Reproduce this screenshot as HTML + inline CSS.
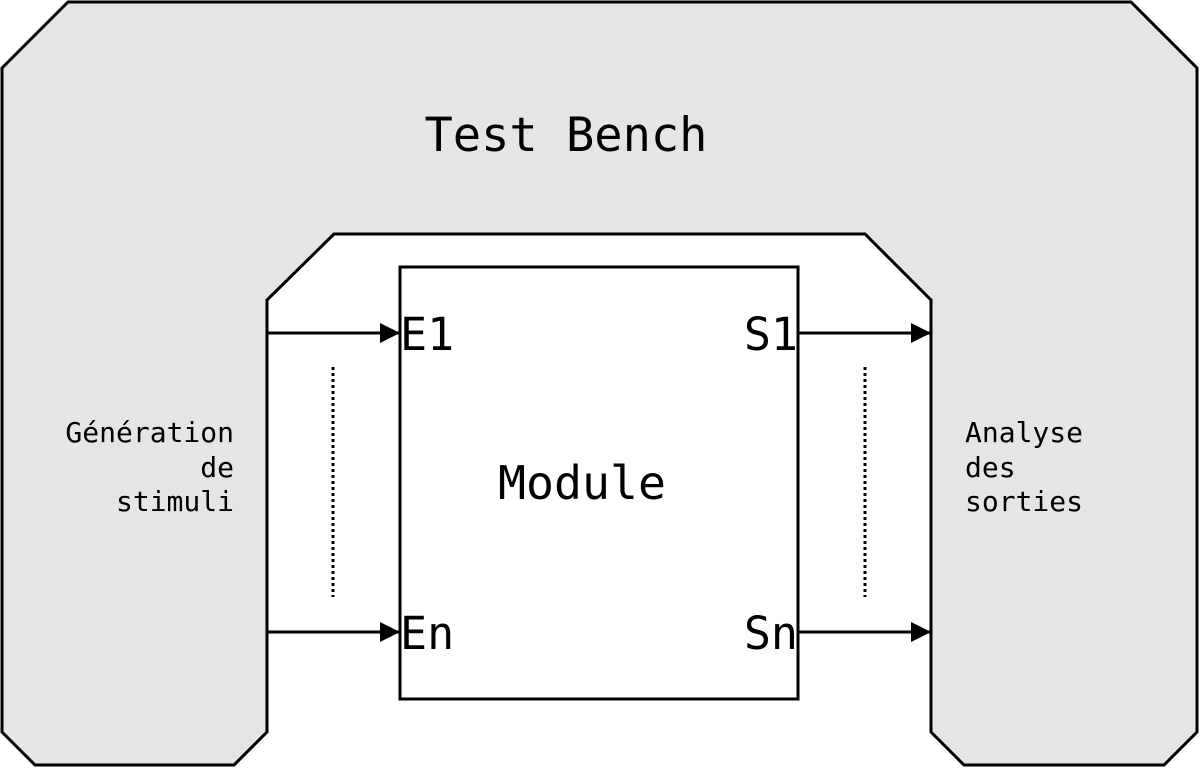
<!DOCTYPE html>
<html><head><meta charset="utf-8"><style>
html,body{margin:0;padding:0;background:#fff;}
svg{display:block;}
text{font-family:"DejaVu Sans Mono","Liberation Mono",monospace;fill:#000;}
</style></head><body>
<svg width="1200" height="768" viewBox="0 0 1200 768" xmlns="http://www.w3.org/2000/svg">
<defs>
<marker id="b" viewBox="0 0 20 20" refX="20" refY="10" markerWidth="20" markerHeight="20" orient="auto" markerUnits="userSpaceOnUse"><path d="M0,0 L20,10 L0,20 z" fill="#000"/></marker>
</defs>
<polygon points="2,68 68,2 1131,2 1197,68 1197,732 1164,765 964,765 931,732 931,300 865,234 334,234 267,300 267,732 234,765 35,765 2,732" fill="#e5e5e5" stroke="#000" stroke-width="3"/>
<rect x="400" y="267" width="398" height="432" fill="#fff" stroke="#000" stroke-width="3"/>
<text x="566" y="151" font-size="47" text-anchor="middle">Test Bench</text>
<text x="582" y="499" font-size="46.5" text-anchor="middle">Module</text>
<text x="400" y="350" font-size="45">E1</text>
<text x="400" y="649" font-size="45">En</text>
<text x="798" y="350" font-size="45" text-anchor="end">S1</text>
<text x="798" y="649" font-size="45" text-anchor="end">Sn</text>
<g font-size="28" text-anchor="end">
<text x="234" y="442">Génération</text>
<text x="234" y="477">de</text>
<text x="234" y="511">stimuli</text>
</g>
<g font-size="28">
<text x="965" y="442">Analyse</text>
<text x="965" y="477">des</text>
<text x="965" y="511">sorties</text>
</g>
<g stroke="#000" stroke-width="3" fill="none">
<line x1="267" y1="333" x2="400" y2="333" marker-end="url(#b)"/>
<line x1="267" y1="632" x2="400" y2="632" marker-end="url(#b)"/>
<line x1="798" y1="333" x2="931" y2="333" marker-end="url(#b)"/>
<line x1="798" y1="632" x2="931" y2="632" marker-end="url(#b)"/>
<line x1="333" y1="367" x2="333" y2="597" stroke-dasharray="3,3"/>
<line x1="865" y1="367" x2="865" y2="597" stroke-dasharray="3,3"/>
</g>
</svg>
</body></html>
